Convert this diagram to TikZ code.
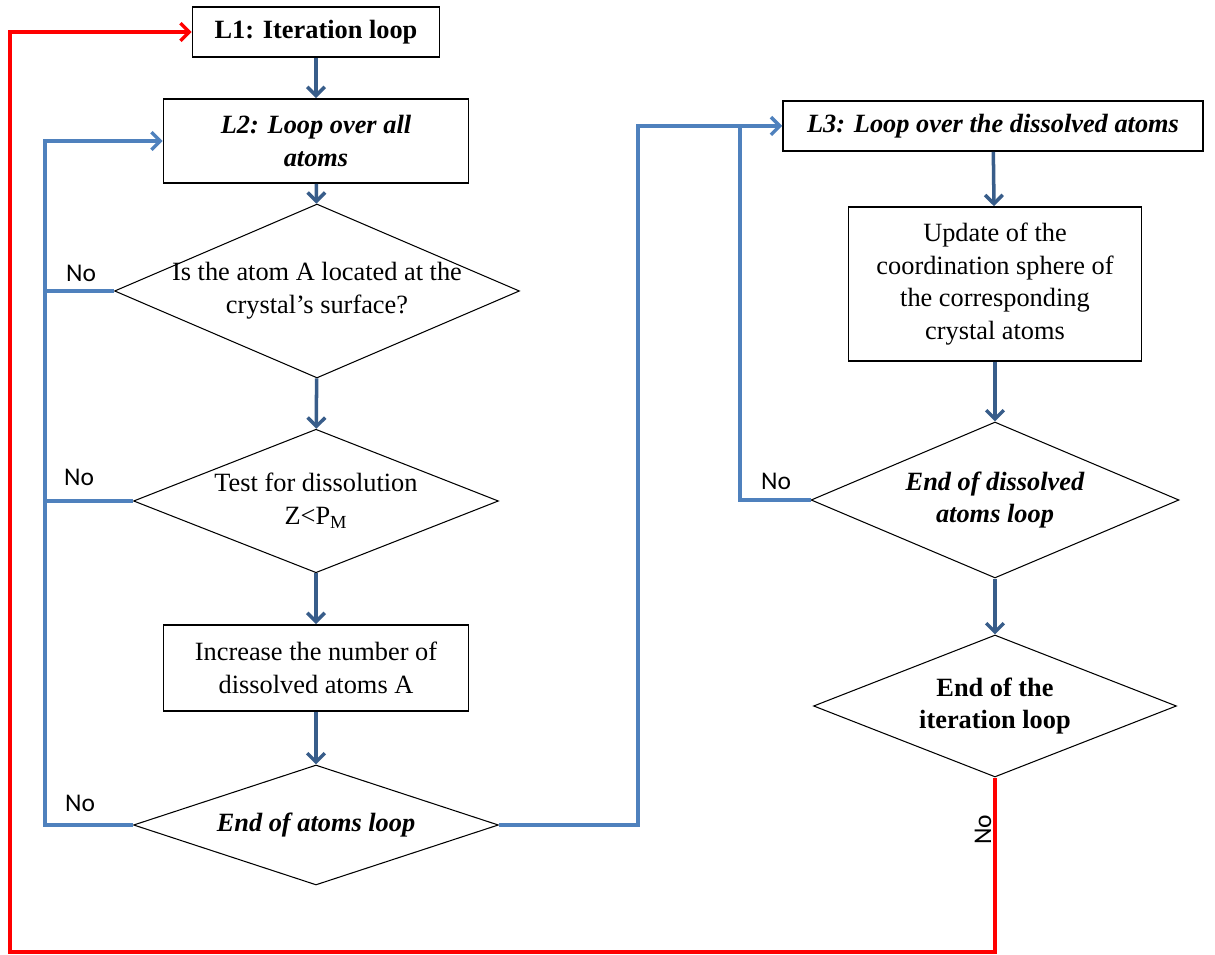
\documentclass[tikz,border=0pt]{standalone}
\usepackage{fontspec}
\setmainfont{Liberation Serif}
\newfontfamily\nofont{Carlito}
\usetikzlibrary{shapes.geometric, arrows.meta}
\definecolor{darkblue}{RGB}{56,93,138}
\definecolor{lightblue}{RGB}{79,129,189}

\begin{document}
\begin{tikzpicture}[x=0.02cm, y=-0.02cm,
every node/.style={align=center, font=\fontsize{15}{18.7}\selectfont},
box/.style={draw, line width=0.9pt, inner sep=0pt},
test/.style={draw, diamond, line width=0.6pt, inner sep=0pt, aspect=2.3},
flow/.style={darkblue, line width=2pt, -{Straight Barb[length=5pt,width=10pt]}},
back/.style={lightblue, line width=2pt},
loop/.style={red, line width=2pt},
no/.style={font=\nofont\fontsize{14.5}{16}\selectfont}]
\useasboundingbox (0,0) rectangle (1215,955);
%================================================================
%	Boxes
\node[box, minimum width=4.94cm, minimum height=1cm] (l1) at (316,32) {\bfseries L1: Iteration loop};
\node[box, minimum width=6.1cm, minimum height=1.68cm] (l2) at (316,141) {\bfseries\itshape L2: Loop over all\\\bfseries\itshape atoms};
\node[box, minimum width=6.1cm, minimum height=1.72cm] (inc) at (316,668) {Increase the number of\\dissolved atoms A};

\node[box, minimum width=8.4cm, minimum height=1cm] (l3) at (993,126) {\bfseries\itshape L3: Loop over the dissolved atoms};
\node[box, minimum width=5.86cm, minimum height=3.08cm] (upd) at (995,284) {Update of the\\coordination sphere of\\the corresponding\\crystal atoms};

%================================================================
%	Tests
\node[test, aspect=2.33, inner xsep=-14pt, inner ysep=-2pt, minimum width=8.1cm, minimum height=3.48cm] (surf) at (317,291) {Is the atom A located at the\\crystal’s surface?};
\node[test, minimum width=7.3cm, minimum height=2.84cm] (diss) at (316,501) {Test for dissolution\\Z<P\textsubscript{M}};
\node[test, minimum width=7.3cm, minimum height=2.4cm] (enda) at (316,825) {\bfseries\itshape End of atoms loop};

\node[test, minimum width=7.36cm, minimum height=3.12cm] (endd) at (995,500) {\bfseries\itshape End of dissolved\\\bfseries\itshape atoms loop};
\node[test, minimum width=7.26cm, minimum height=2.84cm] (endi) at (995,706) {\bfseries End of the\\\bfseries iteration loop};

%----------------------------------------------------------------
\coordinate (lx) at (45,141);
\coordinate (rx) at (638,126);
\coordinate (mx) at (740,126);
\coordinate (rb) at (10,952);

%================================================================
%	Lines
\draw[flow] (l1) -- (l2);
\draw[flow] (l2) -- (surf);
\draw[flow] (surf) -- (diss);
\draw[flow] (diss) -- (inc);
\draw[flow] (inc) -- (enda);

\draw[flow] (l3) -- (upd);
\draw[flow] (upd) -- (endd);
\draw[flow] (endd) -- (endi);

\draw[back, -{Straight Barb[length=5pt,width=10pt]}] (enda.west) -| (lx) -- (l2.west);
\draw[back] (surf.west) -- (surf.west -| lx);
\draw[back] (diss.west) -- (diss.west -| lx);
\draw[back, -{Straight Barb[length=5pt,width=10pt]}] (enda.east) -| (rx) -- (l3.west);
\draw[back] (endd.west) -| (mx);

\draw[loop, -{Straight Barb[length=5pt,width=10pt]}] (endi.south) |- (rb) |- (l1.west);

%----------------------------------------------------------------
\node[no] (no1) at (81,273) {No};
\node[no] (no2) at (79,477) {No};
\node[no] (no3) at (80,803) {No};
\node[no] (no4) at (776,481) {No};
\node[no, rotate=90] (no5) at (983,830) {No};
%================================================================
\end{tikzpicture}
\end{document}
